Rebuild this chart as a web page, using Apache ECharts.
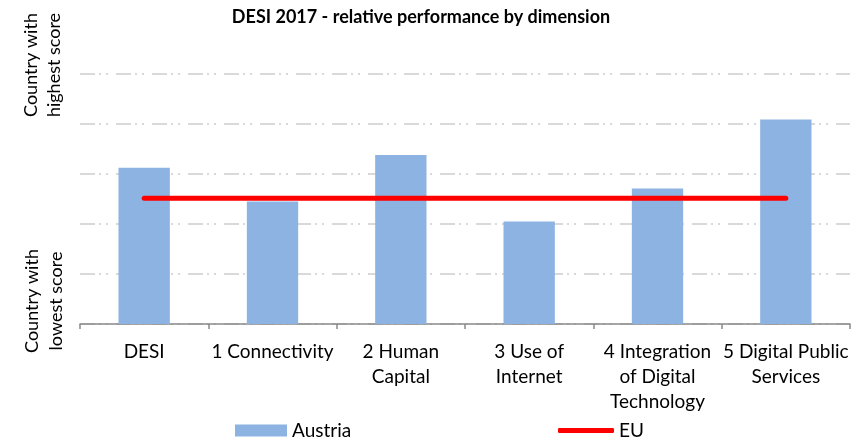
<!DOCTYPE html>
<html><head><meta charset="utf-8">
<script src="https://cdn.jsdelivr.net/npm/echarts@6/dist/echarts.min.js"></script>
<style>html,body{margin:0;padding:0;background:#fff}#c{width:856px;height:448px}</style>
</head><body><div id="c"></div>
<script>
const categories = ['DESI', '1 Connectivity', '2 Human\nCapital', '3 Use of\nInternet', '4 Integration\nof Digital\nTechnology', '5 Digital Public\nServices'];
const austria = [0.625, 0.49, 0.676, 0.41, 0.542, 0.818];
const eu = [0.503, 0.503, 0.503, 0.503, 0.503, 0.503];
const yTop = 'Country with\nhighest score';
const yBottom = 'Country with\nlowest score';
const FONT = 'Lato';

const chart = echarts.init(document.getElementById('c'), null, {renderer: 'canvas'});
chart.setOption({
  animation: false,
  textStyle: {fontFamily: FONT},
  title: {
    text: 'DESI 2017 - relative performance by dimension',
    left: 421, top: 8, textAlign: 'center', padding: 0,
    textStyle: {fontFamily: FONT, fontSize: 18, fontWeight: 'bold', color: '#000'}
  },
  grid: {left: 80, right: 6, top: 74, bottom: 124, containLabel: false},
  xAxis: {
    type: 'category', data: categories, boundaryGap: true,
    axisLine: {lineStyle: {color: '#898989', width: 1.5}},
    axisTick: {show: true, length: 5, lineStyle: {color: '#898989', width: 1.5}},
    axisLabel: {fontFamily: FONT, fontSize: 19, color: '#000', lineHeight: 25, margin: 15, interval: 0}
  },
  yAxis: {
    type: 'value', min: 0, max: 1, interval: 0.2,
    axisLine: {show: false}, axisTick: {show: false}, axisLabel: {show: false},
    splitLine: {lineStyle: {color: '#d9d9d9', width: 2, type: [15, 4, 2, 5, 2, 8]}}
  },
  legend: [
    {data: [{name: 'Austria', icon: 'rect'}], left: 235, top: 421, padding: 0, itemWidth: 52, itemHeight: 12,
     textStyle: {fontFamily: FONT, fontSize: 19, color: '#000'}},
    {data: [{name: 'EU', icon: 'roundRect'}], left: 558, top: 421, padding: 0, itemWidth: 56, itemHeight: 5,
     textStyle: {fontFamily: FONT, fontSize: 19, color: '#000'}}
  ],
  graphic: [
    {type: 'text', x: 42.5, y: 65, rotation: Math.PI / 2,
     style: {text: yTop, fontFamily: FONT, fontSize: 18, lineHeight: 23, fill: '#000', align: 'center', verticalAlign: 'middle'}},
    {type: 'text', x: 44.5, y: 301, rotation: Math.PI / 2,
     style: {text: yBottom, fontFamily: FONT, fontSize: 18, lineHeight: 24, fill: '#000', align: 'center', verticalAlign: 'middle'}}
  ],
  series: [
    {name: 'Austria', type: 'bar', data: austria, barCategoryGap: '60%',
     itemStyle: {color: '#8db3e2'}},
    {name: 'EU', type: 'line', data: eu, symbol: 'none', z: 3,
     lineStyle: {color: '#ff0000', width: 5, cap: 'round'}, itemStyle: {color: '#ff0000'}}
  ]
});
</script></body></html>
